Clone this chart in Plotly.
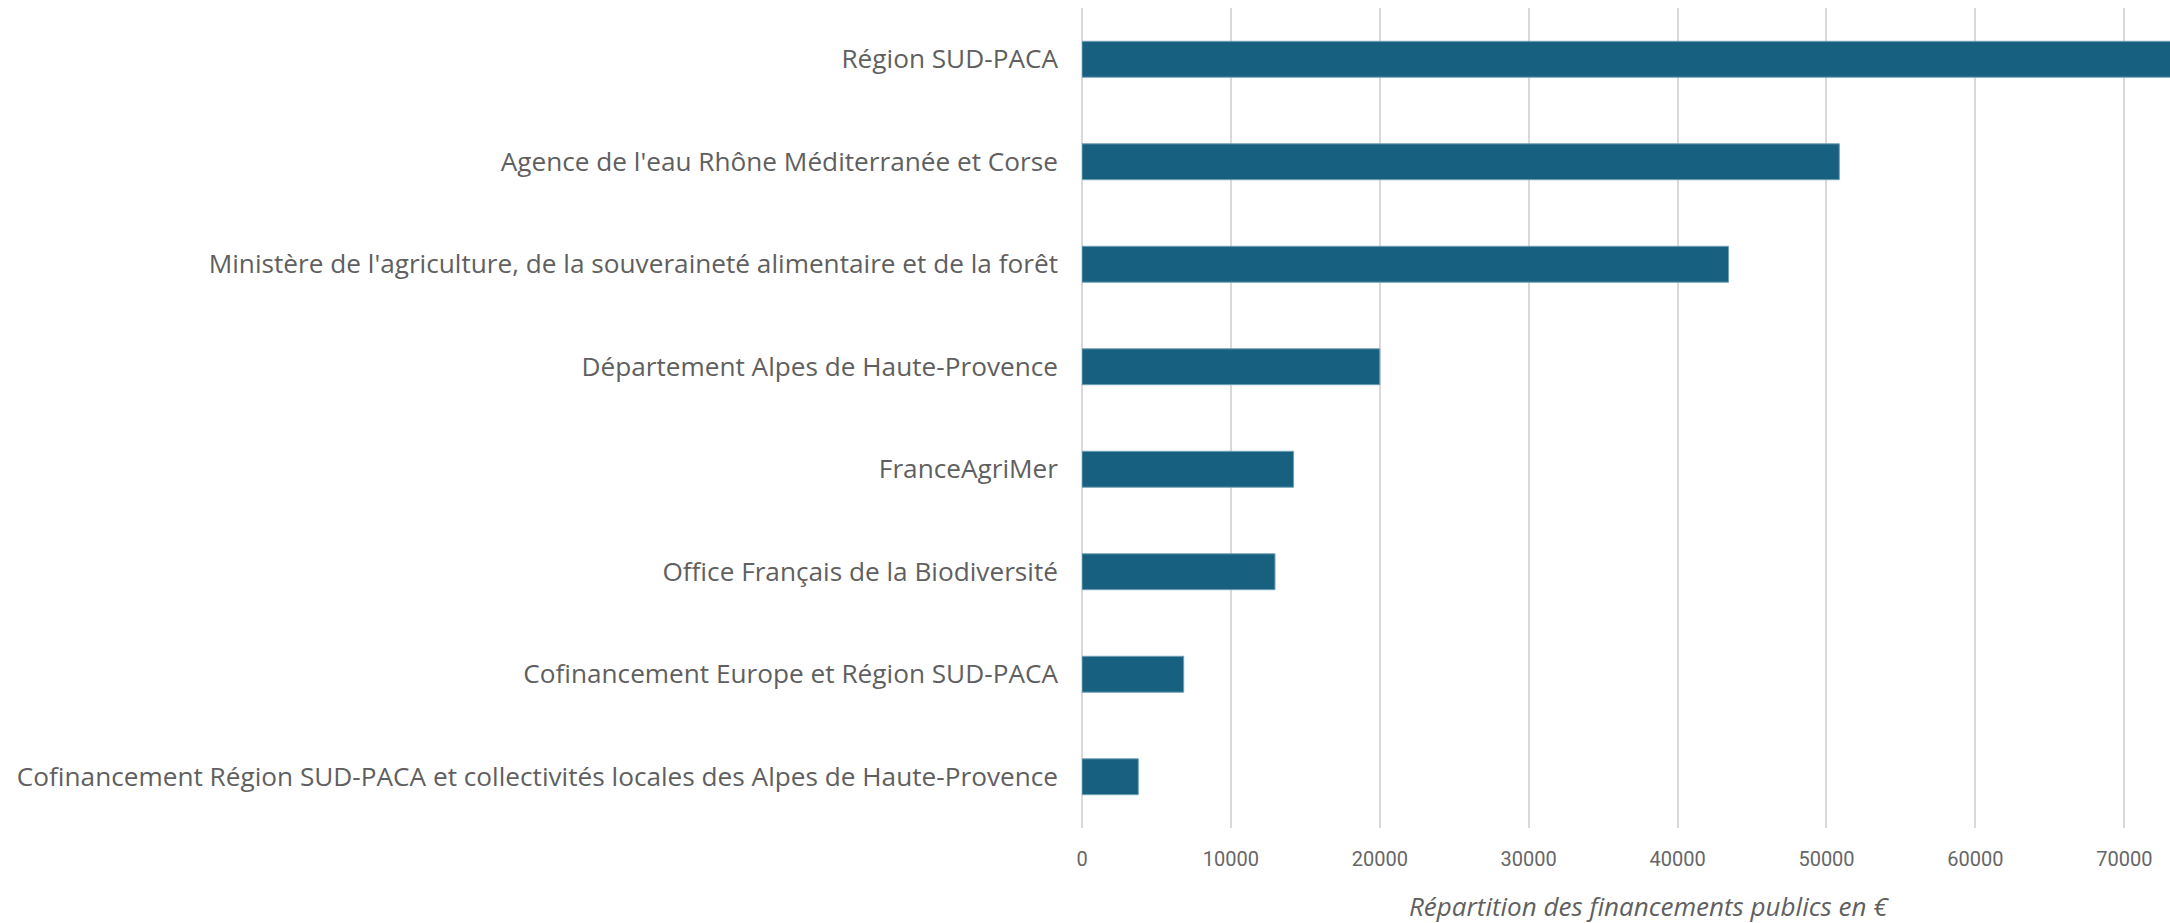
import plotly.graph_objects as go

financeurs = [
    "Région SUD-PACA",
    "Agence de l'eau Rhône Méditerranée et Corse",
    "Ministère de l'agriculture, de la souveraineté alimentaire et de la forêt",
    "Département Alpes de Haute-Provence",
    "FranceAgriMer",
    "Office Français de la Biodiversité",
    "Cofinancement Europe et Région SUD-PACA",
    "Cofinancement Région SUD-PACA et collectivités locales des Alpes de Haute-Provence",
]
montants = [80000, 50860, 43420, 20000, 14210, 12960, 6830, 3780]

fig = go.Figure()
fig.add_trace(go.Bar(
    y=financeurs, x=montants, orientation="h",
    marker=dict(color="#17607f", line=dict(color="#6f9fb5", width=1)),
))

fig.update_layout(
    width=2170, height=923,
    margin=dict(l=1082, r=0, t=8, b=95),
    plot_bgcolor="white", paper_bgcolor="white",
    bargap=0.65, showlegend=False,
    xaxis=dict(
        range=[0, 73070], dtick=10000, tickformat="d",
        showgrid=True, gridcolor="#d9d9d9", gridwidth=1.5,
        zeroline=True, zerolinecolor="#d9d9d9", zerolinewidth=1.5,
        tickfont=dict(family="Roboto", size=20, color="#666666"),
        ticklabelstandoff=17, automargin=False,
    ),
    yaxis=dict(
        autorange="reversed", showgrid=False, automargin=False,
        tickfont=dict(family="Open Sans", size=26.2, color="#5f5f5f"),
        ticklabelstandoff=23,
    ),
    annotations=[dict(
        text="<i>Répartition des financements publics en €</i>",
        xref="paper", yref="paper", x=0.521, y=0, yshift=-78,
        xanchor="center", yanchor="middle", showarrow=False,
        font=dict(family="Open Sans", size=26, color="#5f5f5f"),
    )],
)

# drop the default body margin so the figure fills the window exactly
fig.write_html(
    "out.html",
    config={"displayModeBar": False},
    post_script="document.body.style.margin='0';document.body.style.overflow='hidden';",
)
